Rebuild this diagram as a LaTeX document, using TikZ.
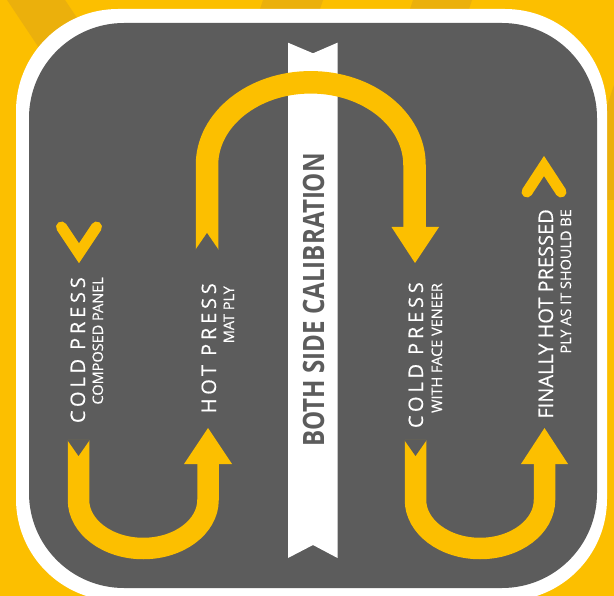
\documentclass[tikz,border=0pt]{standalone}
\usepackage{fontspec}
\setmainfont{Open Sans}
\usepackage{graphicx}
\definecolor{plyyellow}{HTML}{FCBF00}
\definecolor{plystripe}{HTML}{EBB00C}
\definecolor{plygray}{HTML}{5C5C5C}
\usepackage{tikz}

\begin{document}
\begin{tikzpicture}[x=1pt, y=-1pt,
				band/.style={line width=21.5pt, color=plyyellow},
				arrowhead/.style={fill=plyyellow},
				notch/.style={fill=plygray},
				chevron/.style={line width=11pt, color=plyyellow, line cap=round, line join=miter},
				stage/.style={rotate=90, anchor=base east, inner sep=0pt, text=white, font=\fontsize{20}{24}\selectfont\addfontfeature{LetterSpace=19, FakeBold=0.4}},
				finalstage/.style={rotate=90, anchor=base east, inner sep=0pt, text=white, font=\fontsize{20}{24}\selectfont\addfontfeature{FakeBold=0.4}},
				note/.style={rotate=90, anchor=base east, inner sep=0pt, text=white, font=\fontsize{14.5}{17}\selectfont\addfontfeature{FakeBold=0.4}}
			]
			\useasboundingbox (0,0) rectangle (614,596);
			\fill[plyyellow] (0,0) rectangle (614,596);
			\fill[plystripe] (7,0) -- (65,0) -- (125,90) -- (67,90) -- cycle;
			\fill[plystripe] (263,0) -- (323,0) -- (317,18) -- (257,18) -- cycle;
			\fill[plystripe] (413,0) -- (472,0) -- (466,18) -- (407,18) -- cycle;
			\fill[plystripe] (614,85) -- (575,200) -- (614,200) -- cycle;
			\fill[white, rounded corners=102pt] (16,9) rectangle (607,601);
			\fill[plygray, rounded corners=95pt] (29,23) rectangle (597,588);

			\fill[white] (288,42.7) -- (313,53.3) -- (337.5,42.7) -- (337.5,558) -- (313,545) -- (288,558) -- cycle;
			\node[rotate=90, inner sep=0pt, text=plygray, font=\fontsize{29.4}{30}\selectfont\bfseries] (calib) at (313.5,300) {\scalebox{0.82}[1]{BOTH SIDE CALIBRATION}};

			\draw[band, line width=22.5pt] (207,250) -- (207,165) arc[start angle=180, end angle=0, x radius=103.75pt, y radius=82.7pt] -- (414.5,228);
			\fill[arrowhead] (391.5,227) -- (415,263) -- (439,227) -- cycle;
			\fill[notch] (195,250.5) -- (207,233) -- (219,250.5) -- cycle;

			\draw[band] (78.5,440) -- (78.5,500) arc[start angle=180, end angle=360, x radius=64.75pt, y radius=48.5pt] -- (208,463);
			\fill[arrowhead] (184,464) -- (208,428) -- (232,464) -- cycle;
			\fill[notch] (67,439.5) -- (78.5,456) -- (90,439.5) -- cycle;

			\draw[band] (415.5,440) -- (415.5,500) arc[start angle=180, end angle=360, x radius=64.5pt, y radius=48.5pt] -- (544.5,463);
			\fill[arrowhead] (521,464) -- (544.5,428) -- (568,464) -- cycle;
			\fill[notch] (404,439.5) -- (415.5,456) -- (427,439.5) -- cycle;

			\draw[chevron] (61.5,227) -- (79,253.3) -- (96.5,227);
			\draw[chevron] (527,192) -- (544,166) -- (561,192);

			\node[stage] (coldfirst) at (85,277) {COLD PRESS};
			\node[note] (coldfirstnote) at (103,277) {COMPOSED PANEL};
			\node[stage] (hotfirst) at (216,283) {HOT PRESS};
			\node[note] (hotfirstnote) at (234,286) {MAT PLY};
			\node[stage] (coldsecond) at (423,282) {COLD PRESS};
			\node[note] (coldsecondnote) at (442,283) {WITH FACE VENEER};
			\node[finalstage] (hotfinal) at (553,209) {FINALLY HOT PRESSED};
			\node[note] (hotfinalnote) at (571,209) {PLY AS IT SHOULD BE};
		\end{tikzpicture}
\end{document}
